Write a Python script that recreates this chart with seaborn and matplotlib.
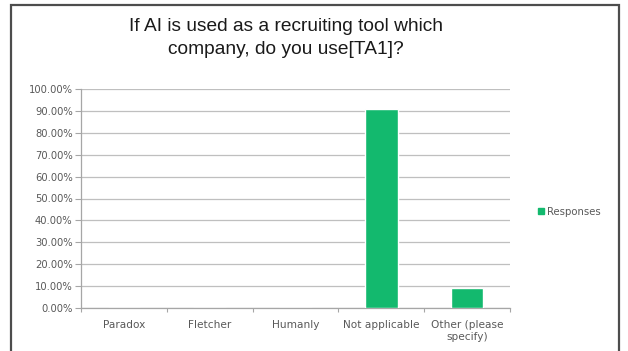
import matplotlib
matplotlib.use("Agg")
import matplotlib.pyplot as plt
from matplotlib.patches import Rectangle
from matplotlib.lines import Line2D
from matplotlib.ticker import FixedLocator, PercentFormatter
import seaborn as sns
import pandas as pd

categories = ["Paradox", "Fletcher", "Humanly", "Not applicable", "Other (please\nspecify)"]
responses = [0.0, 0.0, 0.0, 90.91, 9.09]
series_name = "Responses"

bar_color = "#13b96e"
grid_color = "#bfbfbf"
text_color = "#595959"

sns.set_theme(style="white")
plt.rcParams["font.family"] = ["Liberation Sans", "DejaVu Sans"]

df = pd.DataFrame({"category": categories, "value": responses})

fig = plt.figure(figsize=(6.28, 3.51), dpi=100)
ax = fig.add_axes([81 / 628, 1 - 308 / 351, (510 - 81) / 628, (308 - 89) / 351])

sns.barplot(data=df, x="category", y="value", color=bar_color, width=0.38,
            saturation=1, ax=ax, zorder=3)

ax.set_ylim(0, 100)
ax.set_xlim(-0.5, len(categories) - 0.5)
ax.yaxis.set_major_locator(FixedLocator(range(0, 101, 10)))
ax.yaxis.set_major_formatter(PercentFormatter(decimals=2))
ax.grid(axis="y", color=grid_color, linewidth=0.9, zorder=0)
ax.set_xlabel("")
ax.set_ylabel("")

for side in ("top", "right"):
    ax.spines[side].set_visible(False)
for side in ("left", "bottom"):
    ax.spines[side].set_color("#a6a6a6")
    ax.spines[side].set_linewidth(0.9)

ax.tick_params(axis="y", which="major", left=True, length=4, width=0.8,
               color="#a6a6a6", labelsize=7.2, labelcolor=text_color, pad=2)
ax.tick_params(axis="x", which="major", bottom=False, labelsize=7.6,
               labelcolor=text_color, pad=3)
# tick marks between categories
ax.xaxis.set_minor_locator(FixedLocator([i - 0.5 for i in range(len(categories) + 1)]))
ax.tick_params(axis="x", which="minor", bottom=True, length=3, width=0.8,
               color="#a6a6a6")
for lbl in ax.get_xticklabels():
    lbl.set_family(["DejaVu Sans"])
    lbl.set_linespacing(1.25)
for lbl in ax.get_yticklabels():
    lbl.set_family(["DejaVu Sans"])

fig.text(286 / 628, 1 - 38 / 351,
         "If AI is used as a recruiting tool which\ncompany, do you use[TA1]?",
         ha="center", va="center", fontsize=13.8, color="#1a1a1a",
         linespacing=1.4)

handle = Line2D([], [], marker="s", linestyle="none", markersize=4.5,
                markerfacecolor=bar_color, markeredgecolor=bar_color)
fig.legend([handle], [series_name], loc="center left",
           bbox_to_anchor=(532 / 628, 1 - 212 / 351), frameon=False,
           handlelength=1.0, handletextpad=0.1,
           prop={"family": "DejaVu Sans", "size": 7.3},
           labelcolor=text_color, borderaxespad=0)

fig.patches.append(Rectangle((11 / 628, -0.05), (619 - 11) / 628, 1.05 - 5 / 351,
                             transform=fig.transFigure, fill=False,
                             edgecolor="#4d4d4d", linewidth=1.6))

fig.savefig("out.png", dpi=100, facecolor="white")
